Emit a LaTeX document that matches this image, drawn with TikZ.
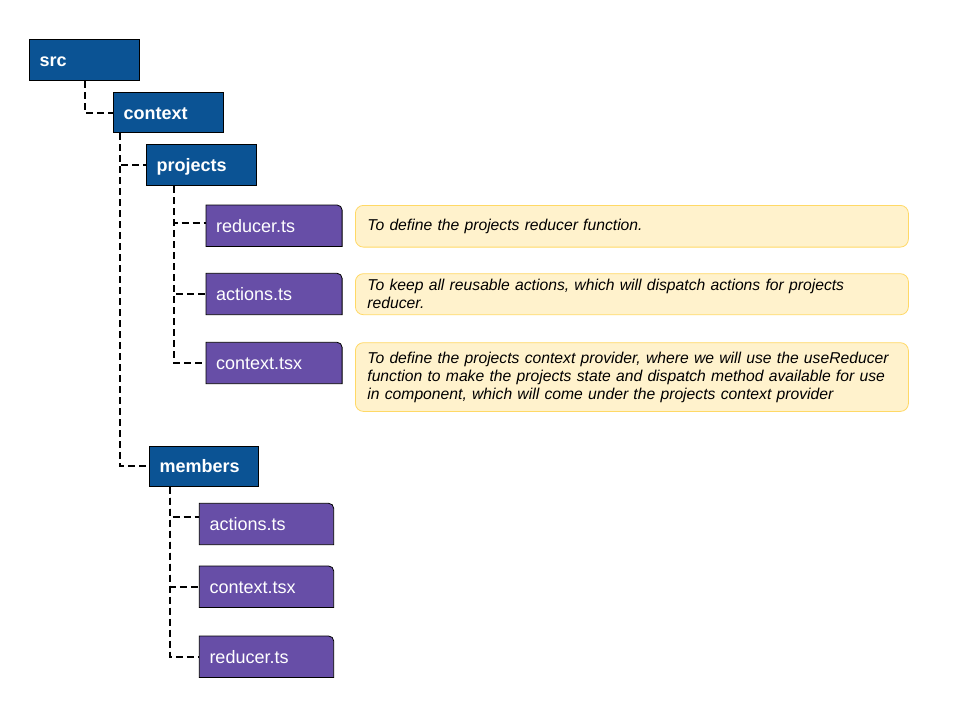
\documentclass[tikz,border=0pt]{standalone}
\usepackage{fontspec}
\setmainfont{Liberation Sans}
\usetikzlibrary{calc,backgrounds}
\definecolor{fblue}{HTML}{0B5394}
\definecolor{fpurple}{HTML}{674EA7}
\definecolor{notefill}{HTML}{FFF2CC}
\definecolor{notedraw}{HTML}{FFD966}
\newcommand{\nohyph}{\hyphenpenalty=10000\relax}
\tikzset{
  folder/.style={anchor=north west, fill=fblue, draw=black, line width=0.8pt,
    text=white, font=\bfseries\fontsize{18}{22}\selectfont, align=left,
    inner xsep=10pt, inner ysep=0pt, text height=14pt, text depth=1pt},
  filebox/.style={anchor=north west, text=white, font=\fontsize{18}{22}\selectfont,
    align=left, inner xsep=10pt, inner ysep=0pt, text height=14pt, text depth=1pt},
  filebg/.style={fill=fpurple, draw=black, line width=0.8pt},
  note/.style={anchor=north west, fill=notefill, draw=notedraw, line width=0.8pt,
    rounded corners=8pt, font=\itshape\fontsize{15.7}{18}\selectfont\nohyph, align=left,
    inner xsep=12pt, inner ysep=0pt, text width=529pt},
  conn/.style={draw=black, line width=1.8pt, dash pattern=on 7pt off 4pt}
}
\begin{document}
\begin{tikzpicture}[x=1pt,y=1pt]
\useasboundingbox (0,0) rectangle (960,-720);

% folders
\node[folder, text width=90pt, minimum height=41pt] (src) at (29.3,-39.3) {src};
\node[folder, text width=90pt, minimum height=40pt] (context) at (113.3,-92.3) {context};
\node[folder, text width=89.4pt, minimum height=41pt] (projects) at (146.3,-144.3) {projects};
\node[folder, text width=89pt, minimum height=40pt] (members) at (149.3,-445.7) {members};

% files of projects
\node[filebox, text width=115.7pt, minimum height=41pt] (pr) at (206,-205) {reducer.ts};
\node[filebox, text width=115.7pt, minimum height=41pt] (pa) at (206,-273.3) {actions.ts};
\node[filebox, text width=115.7pt, minimum height=41pt] (pc) at (206,-342.3) {context.tsx};
% files of members
\node[filebox, text width=114pt, minimum height=41pt] (ma) at (199.3,-503.3) {actions.ts};
\node[filebox, text width=114pt, minimum height=41pt] (mc) at (199.3,-566) {context.tsx};
\node[filebox, text width=114pt, minimum height=41pt] (mr) at (199.3,-636) {reducer.ts};

\begin{scope}[on background layer]
\fill[white] (0,0) rectangle (960,-720);
\foreach \n in {pr,pa,pc,ma,mc,mr}
  \draw[filebg] (\n.south west) -- (\n.north west) -- ([xshift=-5pt]\n.north east)
    arc[start angle=90, end angle=0, radius=5pt] -- (\n.south east) -- cycle;
\end{scope}

% notes
\node[note, minimum height=41.7pt] (npr) at (355,-205) {To define the projects reducer function.};
\node[note, minimum height=41pt] (npa) at (355,-273.3) {To keep all reusable actions, which will dispatch actions for projects\\reducer.};
\node[note, minimum height=68.7pt] (npc) at (355,-342.3) {To define the projects context provider, where we will use the useReducer\\function to make the projects state and dispatch method available for use\\in component, which will come under the projects context provider};

% connectors
\draw[conn] (src.south) |- (context.west);
\draw[conn] ($(context.south west)+(7,0)$) |- (projects.west);
\draw[conn] ($(context.south west)+(7,0)$) |- (members.west);
\draw[conn] ($(projects.south west)+(28,0)$) |- ([yshift=3pt]pr.west);
\draw[conn] ($(projects.south west)+(28,0)$) |- (pa.west);
\draw[conn] ($(projects.south west)+(28,0)$) |- (pc.west);
\draw[conn] ($(members.south west)+(20.7,0)$) |- ([yshift=7pt]ma.west);
\draw[conn] ($(members.south west)+(20.7,0)$) |- (mc.west);
\draw[conn] ($(members.south west)+(20.7,0)$) |- (mr.west);
\end{tikzpicture}
\end{document}
